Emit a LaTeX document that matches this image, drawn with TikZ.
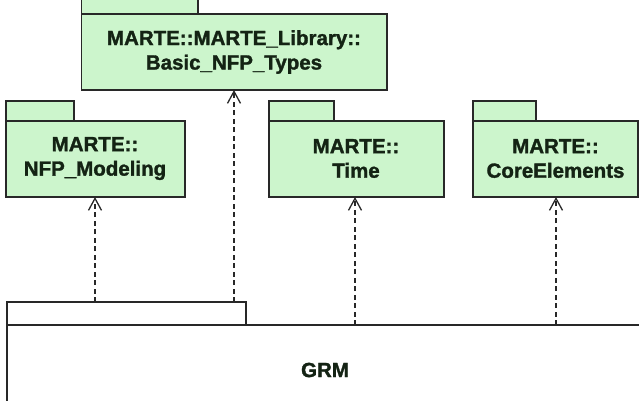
\documentclass[tikz,border=0pt]{standalone}
\usepackage{fontspec}
\setmainfont{Liberation Sans}[BoldFeatures={FakeBold=1.5}]
\usetikzlibrary{arrows.meta}
\definecolor{pkgfill}{RGB}{204,245,204}
\definecolor{pkgline}{RGB}{40,40,40}
\definecolor{txt}{RGB}{20,35,20}
\begin{document}
\begin{tikzpicture}[x=1pt,y=-1pt,
  pkg/.style={draw=pkgline,line width=1.6pt,fill=pkgfill},
  lbl/.style={font=\bfseries\fontsize{20.5}{24.5}\selectfont,align=center,text=txt,inner sep=0pt},
  dep/.style={draw=pkgline,line width=1.4pt,dash pattern=on 5pt off 3.5pt,-{Straight Barb[length=12pt,width=13pt,line width=1.3pt]}}]
\useasboundingbox (0,0) rectangle (639,400);
\begin{scope}
\clip (0,0) rectangle (639,400);
% Basic_NFP_Types
\draw[pkg] (81.5,-5) rectangle (198,14);
\draw[pkg] (81.5,14) rectangle (387,90);
\coordinate (basicS) at (234,90);
\node[lbl] (basic) at (234,52) {MARTE::MARTE\_Library::\\Basic\_NFP\_Types};
% NFP_Modeling
\draw[pkg] (6,101) rectangle (74,121);
\draw[pkg] (6,121) rectangle (185,197);
\coordinate (nfpS) at (95,197);
\node[lbl] (nfp) at (95,158.5) {MARTE::\\NFP\_Modeling};
% Time
\draw[pkg] (269,101) rectangle (334,121);
\draw[pkg] (269,121) rectangle (444,197);
\coordinate (timeS) at (355,197);
\node[lbl] (time) at (356,158.5) {MARTE::\\Time};
% CoreElements
\draw[pkg] (473,101) rectangle (536,121);
\draw[pkg] (473,121) rectangle (638,197);
\coordinate (coreS) at (556,197);
\node[lbl] (core) at (555.5,158.5) {MARTE::\\CoreElements};
% GRM
\draw[draw=pkgline,line width=1.6pt,fill=white] (7,302) rectangle (246,325);
\draw[draw=pkgline,line width=1.6pt,fill=white] (7,325) rectangle (660,420);
\node[lbl] (grm) at (325,370) {GRM};
\coordinate (g1) at (95,302);
\coordinate (g2) at (234,302);
\coordinate (g3) at (355,325);
\coordinate (g4) at (556,325);
% dependencies
\draw[dep] (g1) -- (nfpS);
\draw[dep] (g2) -- (basicS);
\draw[dep] (g3) -- (timeS);
\draw[dep] (g4) -- (coreS);
\end{scope}
\end{tikzpicture}
\end{document}
